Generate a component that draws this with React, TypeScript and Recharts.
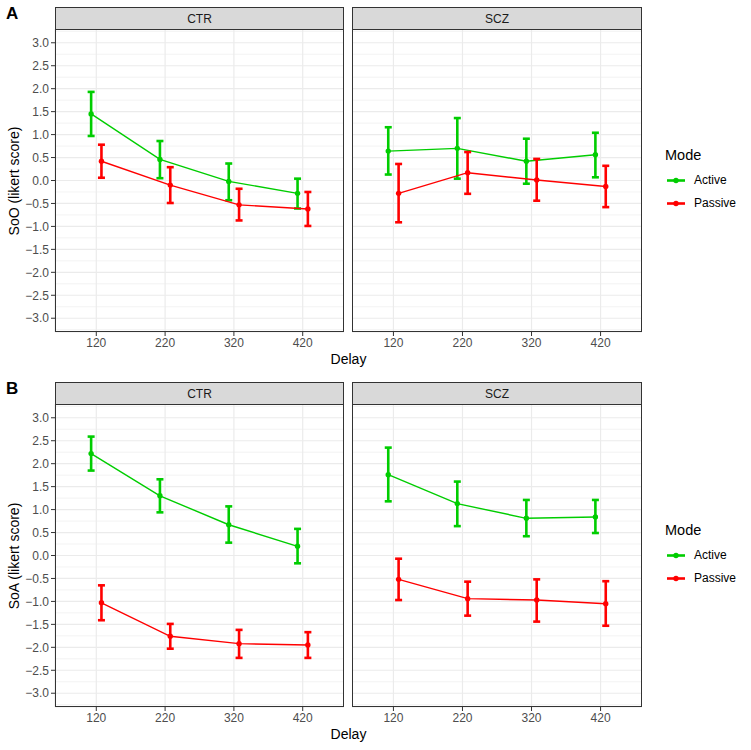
import React from 'react';
import { LineChart, Line, XAxis, YAxis, CartesianGrid, ErrorBar } from 'recharts';

const delays = [120, 220, 320, 420];
const yTicks = [-3, -2.5, -2, -1.5, -1, -0.5, 0, 0.5, 1, 1.5, 2, 2.5, 3];
const yMinor = [-3.25, -2.75, -2.25, -1.75, -1.25, -0.75, -0.25, 0.25, 0.75, 1.25, 1.75, 2.25, 2.75, 3.25];
const groups = ['CTR', 'SCZ'];
const modes = ['Active', 'Passive'];

// SoO, CTR
const sooCtrActiveMean = [1.45, 0.46, -0.02, -0.28];
const sooCtrActiveLow = [0.97, 0.05, -0.43, -0.61];
const sooCtrActiveHigh = [1.93, 0.86, 0.37, 0.04];
const sooCtrPassiveMean = [0.42, -0.1, -0.53, -0.62];
const sooCtrPassiveLow = [0.06, -0.49, -0.87, -0.99];
const sooCtrPassiveHigh = [0.78, 0.29, -0.18, -0.25];
// SoO, SCZ
const sooSczActiveMean = [0.64, 0.7, 0.42, 0.56];
const sooSczActiveLow = [0.13, 0.04, -0.07, 0.07];
const sooSczActiveHigh = [1.16, 1.36, 0.91, 1.04];
const sooSczPassiveMean = [-0.28, 0.17, 0.01, -0.13];
const sooSczPassiveLow = [-0.91, -0.29, -0.44, -0.58];
const sooSczPassiveHigh = [0.36, 0.62, 0.47, 0.32];
// SoA, CTR
const soaCtrActiveMean = [2.22, 1.3, 0.67, 0.2];
const soaCtrActiveLow = [1.85, 0.94, 0.28, -0.17];
const soaCtrActiveHigh = [2.59, 1.66, 1.07, 0.58];
const soaCtrPassiveMean = [-1.03, -1.76, -1.92, -1.95];
const soaCtrPassiveLow = [-1.41, -2.03, -2.23, -2.23];
const soaCtrPassiveHigh = [-0.65, -1.49, -1.62, -1.67];
// SoA, SCZ
const soaSczActiveMean = [1.76, 1.13, 0.81, 0.84];
const soaSczActiveLow = [1.18, 0.64, 0.42, 0.49];
const soaSczActiveHigh = [2.35, 1.61, 1.21, 1.21];
const soaSczPassiveMean = [-0.52, -0.94, -0.97, -1.05];
const soaSczPassiveLow = [-0.97, -1.31, -1.44, -1.53];
const soaSczPassiveHigh = [-0.07, -0.57, -0.52, -0.56];

const COLORS: Record<string, string> = { Active: '#00CD00', Passive: '#FF0000' };
const DODGE = 7.5;
const FONT = '"Liberation Sans", Arial, sans-serif';

type Pt = { x: number; y: number; err: [number, number] };

function build(mean: number[], low: number[], high: number[], offset: number): Pt[] {
  return delays.map((d, i) => ({
    x: d + offset,
    y: mean[i],
    err: [mean[i] - low[i], high[i] - mean[i]],
  }));
}

const panels = [
  {
    label: 'A',
    yTitle: 'SoO (likert score)',
    top: 7,
    facets: {
      CTR: {
        Active: build(sooCtrActiveMean, sooCtrActiveLow, sooCtrActiveHigh, -DODGE),
        Passive: build(sooCtrPassiveMean, sooCtrPassiveLow, sooCtrPassiveHigh, DODGE),
      },
      SCZ: {
        Active: build(sooSczActiveMean, sooSczActiveLow, sooSczActiveHigh, -DODGE),
        Passive: build(sooSczPassiveMean, sooSczPassiveLow, sooSczPassiveHigh, DODGE),
      },
    } as Record<string, Record<string, Pt[]>>,
  },
  {
    label: 'B',
    yTitle: 'SoA (likert score)',
    top: 382,
    facets: {
      CTR: {
        Active: build(soaCtrActiveMean, soaCtrActiveLow, soaCtrActiveHigh, -DODGE),
        Passive: build(soaCtrPassiveMean, soaCtrPassiveLow, soaCtrPassiveHigh, DODGE),
      },
      SCZ: {
        Active: build(soaSczActiveMean, soaSczActiveLow, soaSczActiveHigh, -DODGE),
        Passive: build(soaSczPassiveMean, soaSczPassiveLow, soaSczPassiveHigh, DODGE),
      },
    } as Record<string, Record<string, Pt[]>>,
  },
];

const STRIP_H = 22;
const PLOT_H = 303;
const AXIS_H = 25;
const Y_AXIS_W = 55;
const facetBox = [
  { left: Y_AXIS_W, width: 289 },
  { left: 352, width: 290 },
];

const fmtY = (v: number) => (v < 0 ? '\u2212' : '') + Math.abs(v).toFixed(1);

function Facet({ group, series, index, top }: { group: string; series: Record<string, Pt[]>; index: number; top: number }) {
  const box = facetBox[index];
  const showY = index === 0;
  const chartLeft = showY ? 0 : box.left;
  const chartWidth = showY ? box.left + box.width : box.width;
  const plotTop = top + STRIP_H;
  return (
    <>
      <div
        style={{
          position: 'absolute',
          left: box.left,
          top,
          width: box.width,
          height: STRIP_H + 1,
          boxSizing: 'border-box',
          background: '#d9d9d9',
          border: '1px solid #333333',
          fontFamily: FONT,
          fontSize: 12,
          color: '#1a1a1a',
          display: 'flex',
          alignItems: 'center',
          justifyContent: 'center',
        }}
      >
        {group}
      </div>
      <div style={{ position: 'absolute', left: chartLeft, top: plotTop }}>
        <LineChart width={chartWidth} height={PLOT_H + AXIS_H} margin={{ top: 0, right: 0, bottom: 0, left: 0 }}>
          <CartesianGrid horizontalValues={yMinor} vertical={false} stroke="#ebebeb" strokeWidth={0.6} />
          <CartesianGrid stroke="#ebebeb" strokeWidth={1.2} />
          <XAxis
            type="number"
            dataKey="x"
            domain={[60, 480]}
            ticks={delays}
            interval={0}
            allowDataOverflow
            height={AXIS_H}
            axisLine={false}
            tickSize={4}
            tickLine={{ stroke: '#333333' }}
            tick={{ fontSize: 12, fill: '#4d4d4d', fontFamily: FONT }}
          />
          <YAxis
            type="number"
            domain={[-3.3, 3.3]}
            ticks={yTicks}
            interval={0}
            allowDataOverflow
            hide={!showY}
            width={Y_AXIS_W}
            axisLine={false}
            tickSize={4}
            tickLine={{ stroke: '#333333' }}
            tickFormatter={fmtY}
            tick={{ fontSize: 12, fill: '#4d4d4d', fontFamily: FONT }}
          />
          {modes.map((m) => (
            <Line
              key={m}
              data={series[m]}
              dataKey="y"
              type="linear"
              stroke={COLORS[m]}
              strokeWidth={1.4}
              dot={{ r: 2.7, fill: COLORS[m], stroke: COLORS[m], strokeWidth: 0 }}
              activeDot={false}
              isAnimationActive={false}
            >
              <ErrorBar dataKey="err" direction="y" width={3.5} stroke={COLORS[m]} strokeWidth={2.6} />
            </Line>
          ))}
        </LineChart>
      </div>
      <div
        style={{
          position: 'absolute',
          left: box.left,
          top: plotTop,
          width: box.width,
          height: PLOT_H,
          boxSizing: 'border-box',
          border: '1px solid #333333',
          pointerEvents: 'none',
        }}
      />
    </>
  );
}

function LegendBlock({ top }: { top: number }) {
  return (
    <div style={{ position: 'absolute', left: 665, top, fontFamily: FONT }}>
      <div style={{ fontSize: 14.5, color: '#000', height: 18, lineHeight: '18px' }}>Mode</div>
      {modes.map((m, i) => (
        <div key={m} style={{ position: 'absolute', top: 25.5 + i * 23, left: 0, display: 'flex', alignItems: 'center', height: 17 }}>
          <svg width={22} height={17}>
            <line x1={2} y1={8.5} x2={20} y2={8.5} stroke={COLORS[m]} strokeWidth={2.6} />
            <circle cx={11} cy={8.5} r={2.7} fill={COLORS[m]} />
          </svg>
          <span style={{ marginLeft: 7, fontSize: 12, color: '#000', whiteSpace: 'nowrap' }}>{m}</span>
        </div>
      ))}
    </div>
  );
}

export default function App() {
  return (
    <div style={{ position: 'absolute', left: 0, top: 0, width: 751, height: 750, background: '#fff' }}>
      {panels.map((p) => {
        const plotTop = p.top + STRIP_H;
        const midY = plotTop + PLOT_H / 2;
        return (
          <React.Fragment key={p.label}>
            <div
              style={{
                position: 'absolute',
                left: 6,
                top: p.top - 3,
                fontFamily: FONT,
                fontWeight: 'bold',
                fontSize: 17,
                color: '#000',
              }}
            >
              {p.label}
            </div>
            <div
              style={{
                position: 'absolute',
                left: 13.5,
                top: midY,
                transform: 'translate(-50%, -50%) rotate(-90deg)',
                fontFamily: FONT,
                fontSize: 14,
                color: '#000',
                whiteSpace: 'nowrap',
              }}
            >
              {p.yTitle}
            </div>
            {groups.map((g, i) => (
              <Facet key={g} group={g} series={p.facets[g]} index={i} top={p.top} />
            ))}
            <div
              style={{
                position: 'absolute',
                left: 348.5,
                top: plotTop + PLOT_H + 27,
                transform: 'translate(-50%, -50%)',
                fontFamily: FONT,
                fontSize: 14,
                color: '#000',
              }}
            >
              Delay
            </div>
            <LegendBlock top={p.top + 139} />
          </React.Fragment>
        );
      })}
    </div>
  );
}
